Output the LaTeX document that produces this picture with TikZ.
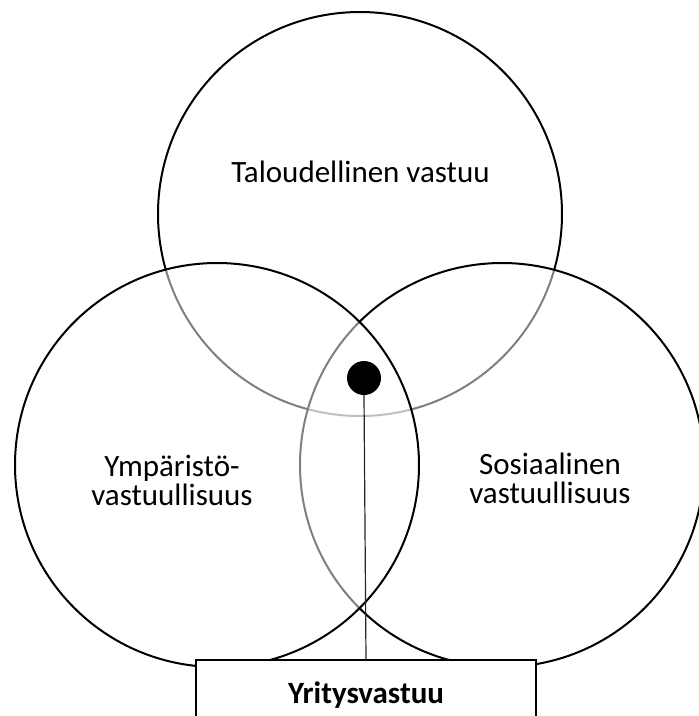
\documentclass[tikz,border=0pt]{standalone}
\usepackage{fontspec}
\setmainfont{Carlito}
\usetikzlibrary{positioning}

\tikzset{
  ring/.style={circle, draw, line width=2pt, minimum size=404pt, inner sep=0pt, outer sep=0pt},
  veil/.style={fill=white, fill opacity=0.5},
  caption/.style={font=\fontsize{31}{29}\selectfont, align=center, inner sep=0pt},
}

\begin{document}
\begin{tikzpicture}[x=1pt, y=-1pt]
  \useasboundingbox (0,0) rectangle (699,716);
  % the three areas of responsibility
  \node[ring] (econ) at (360,214) {};
  \node[ring, veil] (social) at (502,465) {};
  \node[ring, veil] (env) at (217,465) {};
  \node[caption, anchor=base] (econtext) at (360.5,182) {Taloudellinen vastuu};
  \node[caption] (envtext) at (172,480) {Ympäristö-\\vastuullisuus};
  \node[caption] (socialtext) at (550,478.5) {Sosiaalinen\\vastuullisuus};
  % common core
  \node[circle, fill=black, minimum size=34pt, inner sep=0pt] (core) at (364,378) {};
  \node[draw, fill=white, line width=1.8pt, anchor=north, minimum width=340pt, minimum height=71pt,
        font=\fontsize{31}{29}\selectfont\bfseries] (firm) at (366,659) {Yritysvastuu};
  \draw[line width=1.2pt, black!85] (core.south) -- (firm.north);
\end{tikzpicture}
\end{document}
